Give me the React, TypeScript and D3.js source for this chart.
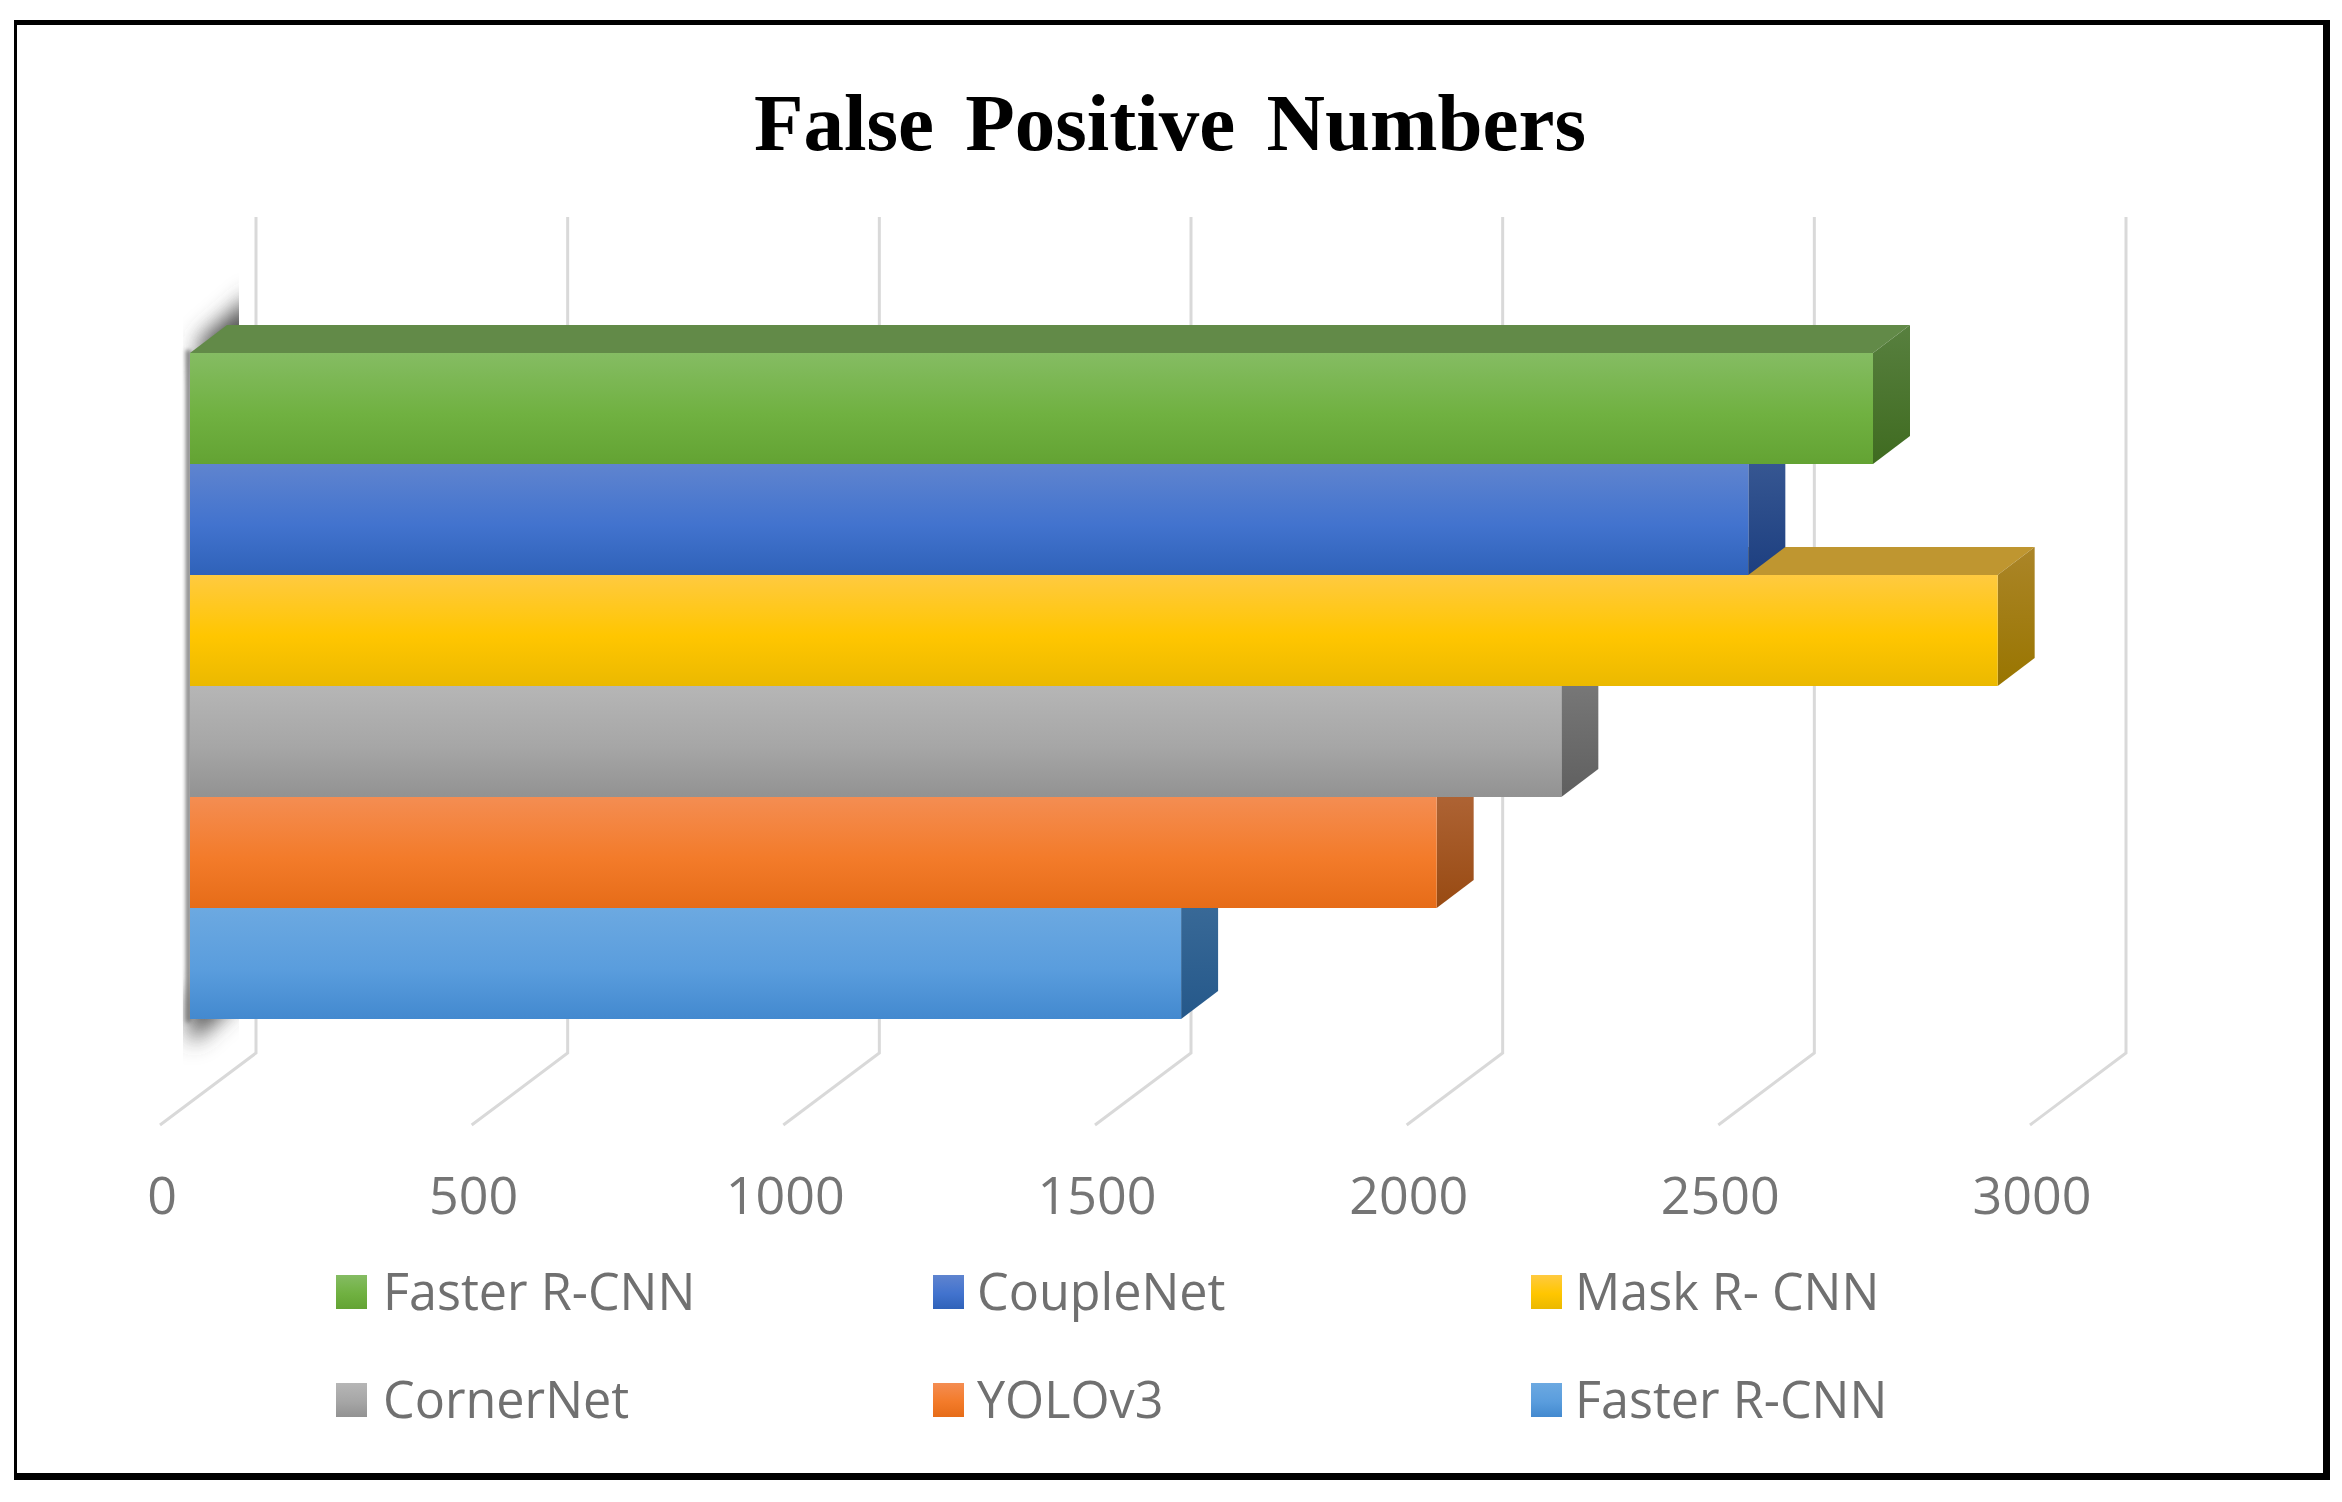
import * as d3 from 'd3'

const W = 2342, H = 1502
const categories = ['Faster R-CNN', 'CoupleNet', 'Mask R- CNN', 'CornerNet', 'YOLOv3', 'Faster R-CNN']
const values = [2700, 2500, 2900, 2200, 2000, 1590]
const xTicks = [0, 500, 1000, 1500, 2000, 2500, 3000]
const frontStops = [
  ['#85bc63', '#70b141', '#63a333'],
  ['#5f84cf', '#4273ce', '#2f62b9'],
  ['#ffca40', '#ffc600', '#ebb900'],
  ['#b6b6b6', '#a6a6a6', '#929292'],
  ['#f48d52', '#f37b2a', '#e66c18'],
  ['#6ca9e1', '#5a9ddd', '#4389cf'],
]
const sideStops = [
  ['#58803f', '#3f6b20'],
  ['#3c5c96', '#1d3f80'],
  ['#ab8528', '#997500'],
  ['#7d7d7d', '#5f5f5f'],
  ['#b3693c', '#984a12'],
  ['#3d6d9a', '#25588a'],
]
const topColors = ['#628a48', '#4d6ea8', '#bf9630', '#8a8a8a', '#c06f3e', '#4f83b5']

const DX = 37, DY = -28
const GRID_BACK = 66, GRID_FRONT = -30
const GRID_TOP = 217, GRID_FLOOR = 1053, GRID_END = 1125

const x = d3.scaleLinear().domain([0, 3000]).range([190, 2060])
const y = d3.scaleBand<number>().domain(d3.range(categories.length)).range([353, 1019])
const poly = d3.line()

const legendX = [336, 933, 1531]
const legendY = [1275, 1383]
const SANS = '"Open Sans", sans-serif'

export default function App() {
  const order = d3.range(categories.length).reverse()
  return (
    <svg width={W} height={H} style={{ position: 'absolute', left: 0, top: 0, background: '#fff' }}>
      <defs>
        {categories.map((_, i) => (
          <g key={i}>
            <linearGradient id={`front${i}`} x1="0" y1="0" x2="0" y2="1">
              <stop offset="0" stopColor={frontStops[i][0]} />
              <stop offset="0.55" stopColor={frontStops[i][1]} />
              <stop offset="1" stopColor={frontStops[i][2]} />
            </linearGradient>
            <linearGradient id={`side${i}`} x1="0" y1="0" x2="0" y2="1">
              <stop offset="0" stopColor={sideStops[i][0]} />
              <stop offset="1" stopColor={sideStops[i][1]} />
            </linearGradient>
          </g>
        ))}
        <filter id="blob" filterUnits="userSpaceOnUse" x={120} y={200} width={200} height={950}>
          <feGaussianBlur stdDeviation="11" />
        </filter>
        <filter id="strip" filterUnits="userSpaceOnUse" x={170} y={330} width={40} height={710}>
          <feGaussianBlur stdDeviation="2" />
        </filter>
        <clipPath id="wallClip">
          <rect x={183} y={240} width={56} height={840} />
        </clipPath>
      </defs>

      <path
        d="M14,20H2330V1480H14Z M17,25V1473H2323V25Z"
        fill="#000"
        fillRule="evenodd"
      />

      <text
        x={1170}
        y={150}
        textAnchor="middle"
        fontFamily='"Liberation Serif", serif'
        fontWeight="700"
        fontSize={81}
        wordSpacing={11}
        fill="#000"
      >
        False Positive Numbers
      </text>

      {/* gridlines with their floor ticks */}
      {xTicks.map(t => (
        <path
          key={t}
          d={poly([
            [x(t) + GRID_BACK, GRID_TOP],
            [x(t) + GRID_BACK, GRID_FLOOR],
            [x(t) + GRID_FRONT, GRID_END],
          ]) ?? ''}
          fill="none"
          stroke="#d9d9d9"
          strokeWidth={3}
        />
      ))}

      {/* blurred left wall behind the bars */}
      <g clipPath="url(#wallClip)" fill="#4c4c4c">
        <path d={poly([[200, 372], [200, 340], [256, 292], [256, 350]]) + 'Z'} filter="url(#blob)" />
        <path d={poly([[190, 990], [232, 990], [232, 1006], [190, 1044]]) + 'Z'} filter="url(#blob)" />
      </g>
      <rect x={186} y={350} width={5} height={672} fill="#777" filter="url(#strip)" />

      {/* bars, lowest first so upper bars overlap them */}
      {order.map(i => {
        const x0 = x(0)
        const x1 = x(values[i])
        const y0 = y(i) ?? 0
        const y1 = y0 + y.bandwidth()
        return (
          <g key={i}>
            <path
              d={poly([[x0, y0], [x0 + DX, y0 + DY], [x1 + DX, y0 + DY], [x1, y0]]) + 'Z'}
              fill={topColors[i]}
            />
            <path
              d={poly([[x1, y0], [x1 + DX, y0 + DY], [x1 + DX, y1 + DY], [x1, y1]]) + 'Z'}
              fill={`url(#side${i})`}
            />
            <rect x={x0} y={y0} width={x1 - x0} height={y1 - y0} fill={`url(#front${i})`} />
          </g>
        )
      })}

      {xTicks.map(t => (
        <text
          key={t}
          x={x(t) + GRID_FRONT + 2}
          y={1214}
          textAnchor="middle"
          fontFamily={SANS}
          fontSize={52}
          fill="#757575"
        >
          {t}
        </text>
      ))}

      {categories.map((name, i) => {
        const lx = legendX[i % 3]
        const ly = legendY[Math.floor(i / 3)]
        return (
          <g key={i}>
            <rect x={lx} y={ly} width={31} height={34} fill={`url(#front${i})`} />
            <text x={lx + (i % 3 === 0 ? 47 : 44)} y={ly + 35} fontFamily={SANS} fontSize={50.3} fill="#707070">
              {name}
            </text>
          </g>
        )
      })}
    </svg>
  )
}
